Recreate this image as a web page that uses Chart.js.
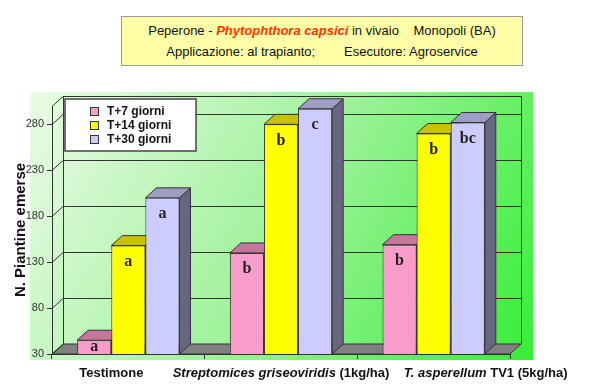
<!DOCTYPE html>
<html>
<head>
<meta charset="utf-8">
<script src="https://cdn.jsdelivr.net/npm/chart.js@4.4.1/dist/chart.umd.min.js"></script>
<style>
    body { margin: 0; background: #fff; }
    #wrap { position: relative; width: 600px; height: 389px; }
    #title-box {
        position: absolute; left: 121px; top: 16px; width: 400px; height: 45px;
        background: #ffffa8; border: 1px solid #9a9a9a;
        font-family: 'Liberation Sans', Arial, sans-serif; font-size: 13px; color: #111;
        text-align: center; line-height: 21px; padding-top: 3px;
    }
    #title-box .sp { color: #ff3300; font-weight: bold; font-style: italic; }
</style>
</head>
<body>
<div id="wrap">
    <canvas id="chart" width="600" height="389"></canvas>
    <div id="title-box">
        Peperone - <span class="sp">Phytophthora capsici</span> in vivaio&nbsp;&nbsp;&nbsp;&nbsp;Monopoli (BA)<br>
        Applicazione: al trapianto;&nbsp;&nbsp;&nbsp;&nbsp;&nbsp;&nbsp;&nbsp;&nbsp;Esecutore: Agroservice
    </div>
</div>
<script>
// Data
const categories = ['Testimone', 'Streptomices griseoviridis (1kg/ha)', 'T. asperellum TV1 (5kg/ha)'];
const italicPart = ['', 'Streptomices griseoviridis', 'T. asperellum'];
const seriesNames = ['T+7 giorni', 'T+14 giorni', 'T+30 giorni'];
const t7Values = [45, 140, 149];
const t14Values = [148, 280, 270];
const t30Values = [200, 297, 282];
const t7Letters = ['a', 'b', 'b'];
const t14Letters = ['a', 'b', 'b'];
const t30Letters = ['a', 'c', 'bc'];
const yTicks = [30, 80, 130, 180, 230, 280];

// Colours: front, top, side
const faceColors = [
    { front: '#f99cca', top: '#c5769b', side: '#9a5a78' },
    { front: '#ffff00', top: '#c8c000', side: '#9a9400' },
    { front: '#ccccff', top: '#9e9ec4', side: '#666680' }
];
const letterSets = [t7Letters, t14Letters, t30Letters];

// 3D depth offset
const DX = 11, DY = -10;
// small shifts used to place category labels as in the picture
const labelShift = [-17, 0, 52];

function poly(ctx, pts, fill, stroke) {
    ctx.beginPath();
    ctx.moveTo(pts[0][0], pts[0][1]);
    for (let i = 1; i < pts.length; i++) ctx.lineTo(pts[i][0], pts[i][1]);
    ctx.closePath();
    if (fill) { ctx.fillStyle = fill; ctx.fill(); }
    if (stroke) { ctx.strokeStyle = stroke; ctx.lineWidth = 1; ctx.stroke(); }
}

const chart3d = {
    id: 'chart3d',
    beforeDraw(chart) {
        const { ctx, chartArea: a } = chart;
        const x0 = a.left - 22, y0 = a.top - 14, x1 = a.right + 23, y1 = a.bottom + 6;
        const g = ctx.createLinearGradient(x0, y0, x1, y1);
        g.addColorStop(0, '#eafbe6');
        g.addColorStop(0.5, '#9ff29b');
        g.addColorStop(1, '#36ee36');
        ctx.save();
        ctx.fillStyle = g;
        ctx.fillRect(x0, y0, x1 - x0, y1 - y0);
        ctx.restore();
    },
    beforeDatasetsDraw(chart) {
        const { ctx, chartArea: a, scales: { y } } = chart;
        const floorY = y.getPixelForValue(y.min);
        ctx.save();
        // floor
        poly(ctx, [[a.left, a.bottom], [a.right, a.bottom], [a.right + DX, a.bottom + DY], [a.left + DX, a.bottom + DY]], '#808080', '#333');
        // back wall grid + left wall diagonals
        ctx.strokeStyle = '#333';
        ctx.lineWidth = 1;
        const vals = yTicks.concat([y.max]);
        vals.forEach(v => {
            const py = Math.round(y.getPixelForValue(v)) + 0.5;
            ctx.beginPath();
            ctx.moveTo(a.left, py);
            ctx.lineTo(a.left + DX, py + DY);
            if (v !== y.min) ctx.lineTo(a.right + DX, py + DY);
            ctx.stroke();
        });
        ctx.beginPath();
        ctx.moveTo(a.left + DX + 0.5, a.top + DY);
        ctx.lineTo(a.left + DX + 0.5, a.bottom + DY);
        ctx.moveTo(a.right + DX + 0.5, a.top + DY);
        ctx.lineTo(a.right + DX + 0.5, a.bottom + DY);
        ctx.stroke();
        // top and side faces of bars
        chart.data.datasets.forEach((ds, di) => {
            const meta = chart.getDatasetMeta(di);
            meta.data.forEach(bar => {
                const L = bar.x - bar.width / 2, R = bar.x + bar.width / 2;
                const b = Math.min(bar.base, floorY);
                const c = faceColors[di];
                poly(ctx, [[R, bar.y], [R + DX, bar.y + DY], [R + DX, b + DY], [R, b]], c.side, '#333');
                poly(ctx, [[L, bar.y], [R, bar.y], [R + DX, bar.y + DY], [L + DX, bar.y + DY]], c.top, '#333');
            });
        });
        ctx.restore();
    },
    afterDatasetsDraw(chart) {
        const { ctx, chartArea: a, scales: { x, y } } = chart;
        const floorY = y.getPixelForValue(y.min);
        ctx.save();
        // significance letters
        ctx.font = 'bold 16px "Liberation Serif", "DejaVu Serif", serif';
        ctx.fillStyle = '#222';
        ctx.textAlign = 'center';
        ctx.textBaseline = 'middle';
        chart.data.datasets.forEach((ds, di) => {
            chart.getDatasetMeta(di).data.forEach((bar, i) => {
                const b = Math.min(bar.base, floorY);
                const ty = Math.min(bar.y + 16, (bar.y + b) / 2);
                ctx.fillText(letterSets[di][i], bar.x, ty);
            });
        });
        // category labels with italic species names
        ctx.textBaseline = 'middle';
        ctx.textAlign = 'left';
        ctx.fillStyle = '#111';
        const reg = 'bold 13px "Liberation Sans", Arial, sans-serif';
        const ita = 'italic bold 13px "Liberation Sans", Arial, sans-serif';
        categories.forEach((cat, i) => {
            const it = italicPart[i];
            const rest = cat.slice(it.length);
            ctx.font = ita; const w1 = ctx.measureText(it).width;
            ctx.font = reg; const w2 = ctx.measureText(rest).width;
            let sx = x.getPixelForValue(i) + labelShift[i] - (w1 + w2) / 2;
            const ty = a.bottom + 19;
            ctx.font = ita; ctx.fillText(it, sx, ty);
            ctx.font = reg; ctx.fillText(rest, sx + w1, ty);
        });
        // legend box
        const lx = a.left + 13, ly = a.top - 7, lw = 131, lh = 52;
        ctx.fillStyle = '#fff';
        ctx.fillRect(lx, ly, lw, lh);
        ctx.strokeStyle = '#444';
        ctx.lineWidth = 1.5;
        ctx.strokeRect(lx, ly, lw, lh);
        ctx.font = 'bold 12px "Liberation Sans", Arial, sans-serif';
        ctx.lineWidth = 1;
        seriesNames.forEach((name, i) => {
            const cy = ly + 13 + i * 14;
            ctx.fillStyle = faceColors[i].front;
            ctx.fillRect(lx + 25.5, cy - 4.5, 8, 8);
            ctx.strokeStyle = '#333';
            ctx.strokeRect(lx + 25.5, cy - 4.5, 8, 8);
            ctx.fillStyle = '#111';
            ctx.fillText(name, lx + 42, cy);
        });
        ctx.restore();
    }
};

const datasets = [t7Values, t14Values, t30Values].map((vals, i) => ({
    label: seriesNames[i],
    data: vals,
    backgroundColor: faceColors[i].front,
    borderColor: '#333',
    borderWidth: 1,
    categoryPercentage: 0.67,
    barPercentage: 1.0
}));

new Chart(document.getElementById('chart'), {
    type: 'bar',
    data: { labels: categories, datasets: datasets },
    plugins: [chart3d],
    options: {
        responsive: false,
        animation: false,
        layout: { padding: { top: 106, right: 90, bottom: 0, left: 0 } },
        plugins: { legend: { display: false }, tooltip: { enabled: false } },
        scales: {
            x: {
                afterFit: s => { s.height = 35; },
                ticks: { display: false },
                grid: { drawOnChartArea: false, drawTicks: true, tickLength: 5, color: '#333' },
                border: { display: true, color: '#333' }
            },
            y: {
                min: 30,
                max: 300,
                afterFit: s => { s.width = 52; },
                afterBuildTicks: s => { s.ticks = yTicks.map(v => ({ value: v })); },
                ticks: {
                    font: { family: '"Liberation Sans", Arial, sans-serif', size: 11 },
                    color: '#333',
                    padding: 3
                },
                grid: { drawOnChartArea: false, drawTicks: true, tickLength: 5, color: '#333' },
                border: { display: true, color: '#333' },
                title: {
                    display: true,
                    text: 'N. Piantine emerse',
                    font: { family: '"Liberation Sans", Arial, sans-serif', size: 15, weight: 'bold' },
                    color: '#111',
                    padding: { top: 12, bottom: 0 }
                }
            }
        }
    }
});
</script>
</body>
</html>
